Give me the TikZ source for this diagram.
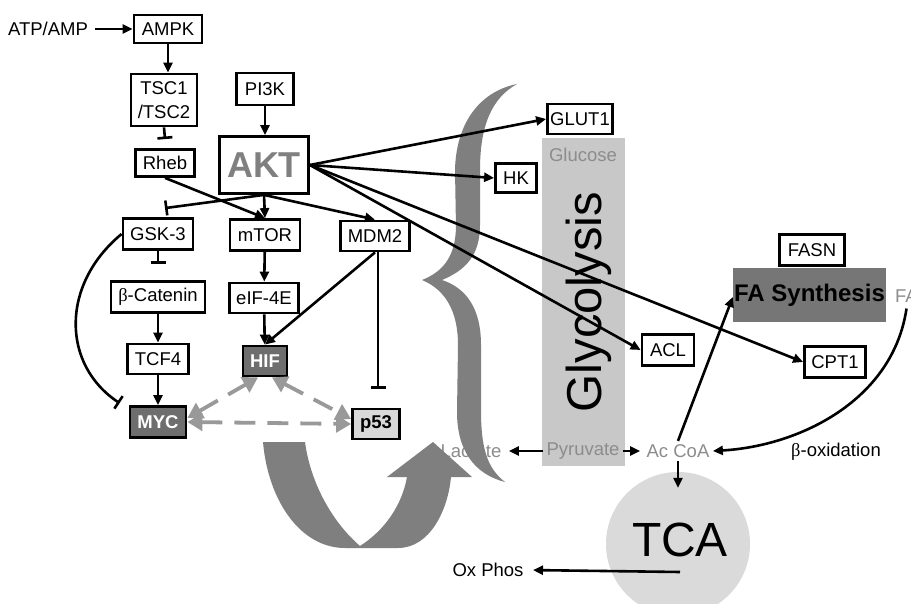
\documentclass[tikz,border=0pt]{standalone}
\usepackage{fontspec}
\setmainfont{Liberation Sans}
\newfontfamily\greekserif{Liberation Serif}
\usetikzlibrary{arrows.meta}
\definecolor{boxdark}{HTML}{6E6E6E}
\definecolor{fasyn}{HTML}{767676}
\definecolor{bracegray}{HTML}{7F7F7F}
\definecolor{barlight}{HTML}{C8C8C8}
\definecolor{tcagray}{HTML}{DADADA}
\definecolor{p53fill}{HTML}{D9D9D9}
\definecolor{txtgray}{HTML}{8C8C8C}
\definecolor{aktgray}{HTML}{808080}
\definecolor{dashgray}{HTML}{999999}
\newcommand\labfont{\fontsize{18.5}{21}\selectfont}
\begin{document}
\begin{tikzpicture}[x=1pt,y=-1pt,
  bx/.style={draw, line width=2.8pt, fill=white, inner sep=0pt, font=\labfont},
  ln/.style={line width=2.6pt, -{Triangle[length=10pt,width=9pt]}},
  inh/.style={line width=2.6pt, -{Bar[width=15pt]}},
  dsh/.style={draw=dashgray, line width=3.8pt, dash pattern=on 21pt off 12pt,
    {Triangle[length=15pt,width=17pt]}-{Triangle[length=15pt,width=17pt]}},
  gtxt/.style={font=\labfont, text=txtgray},
  btxt/.style={font=\labfont}]
\fill[white] (0,0) rectangle (911,604);
\useasboundingbox (0,0) rectangle (911,604);

% glycolysis bar and texts
\node[fill=barlight, minimum width=83pt, minimum height=328pt, inner sep=0pt] (bar) at (583.5,302) {};
\node[rotate=90, font=\fontsize{49}{49}\selectfont] (glyco) at (589,302) {Glycolysis};
\node[gtxt] (glucose) at (583,155) {Glucose};
\node[gtxt] (pyr) at (583,451) {Pyruvate};
\node[gtxt] (lac) at (471,451) {Lactate};
\node[gtxt] (acoa) at (678,451) {Ac CoA};
\node[gtxt, anchor=west, inner sep=0pt] (fa) at (895,296) {FA};
\node[btxt] (atp) at (48,29) {ATP/AMP};
\node[btxt] (boxid) at (836,452) {{\greekserif β}-oxidation};
\node[btxt] (ox) at (488,570) {Ox Phos};

% brace
\fill[bracegray] (517,84) .. controls (478,92) and (456,125) .. (455,170)
 -- (456,228) .. controls (455,258) and (442,272) .. (422,280)
 .. controls (446,290) and (458,312) .. (458,345)
 -- (457,412) .. controls (457,450) and (474,474) .. (505,482)
 .. controls (487,468) and (481,448) .. (481,410)
 -- (481,345) .. controls (481,308) and (466,288) .. (442,280)
 .. controls (466,270) and (480,255) .. (480,225)
 -- (480,170) .. controls (480,125) and (492,98) .. (517,84) -- cycle;

% big U arrow
\fill[bracegray] (263,442) .. controls (268,500) and (300,548) .. (345,548)
 -- (398,548) .. controls (430,548) and (448,510) .. (451,477)
 -- (472,477) -- (433,442) -- (387,477) -- (407,477)
 .. controls (402,505) and (385,530) .. (360,546)
 .. controls (330,520) and (310,480) .. (305,442) -- cycle;

% TCA
\node[circle, fill=tcagray, minimum size=144pt, inner sep=0pt] (tca) at (678,544) {};
\node[font=\fontsize{48}{48}\selectfont] (tcat) at (680,540) {TCA};

% FA synthesis
\node[fill=fasyn, minimum width=153pt, minimum height=54pt, inner sep=0pt,
  font=\fontsize{24}{26}\selectfont\bfseries] (fas) at (809.5,295) {FA Synthesis};

% boxes
\node[bx, minimum width=68pt, minimum height=28pt] (ampk) at (168,29) {AMPK};
\node[bx, minimum width=66pt, minimum height=52pt, align=center, font=\fontsize{18.5}{23.5}\selectfont] (tsc) at (164,100) {TSC1\\/TSC2};
\node[bx, minimum width=57pt, minimum height=32pt] (pi3k) at (265,89) {PI3K};
\node[bx, minimum width=89pt, minimum height=57pt, font=\fontsize{36}{38}\selectfont\bfseries, text=aktgray] (akt) at (264,165) {AKT};
\node[bx, minimum width=59pt, minimum height=27pt] (rheb) at (165,163) {Rheb};
\node[bx, minimum width=70pt, minimum height=31pt] (gsk) at (158,234) {GSK-3};
\node[bx, minimum width=70pt, minimum height=31pt] (mtor) at (265,235) {mTOR};
\node[bx, minimum width=69pt, minimum height=30pt] (mdm2) at (375,236) {MDM2};
\node[bx, minimum width=94pt, minimum height=31pt] (bcat) at (158,297) {{\greekserif β}-Catenin};
\node[bx, minimum width=69pt, minimum height=30pt] (eif) at (264,298) {eIF-4E};
\node[bx, minimum width=61pt, minimum height=30pt] (tcf) at (158,359) {TCF4};
\node[bx, fill=boxdark, text=white, minimum width=44pt, minimum height=30pt, font=\labfont\bfseries] (hif) at (265,361) {HIF};
\node[bx, fill=boxdark, text=white, minimum width=56pt, minimum height=31pt, font=\labfont\bfseries] (myc) at (158,422) {MYC};
\node[bx, fill=p53fill, minimum width=47pt, minimum height=30pt, font=\labfont\bfseries] (p53) at (376,424) {p53};
\node[bx, minimum width=65pt, minimum height=30pt] (glut) at (580,119) {GLUT1};
\node[bx, minimum width=41pt, minimum height=29pt] (hk) at (516,178) {HK};
\node[bx, minimum width=52pt, minimum height=31pt] (acl) at (668,350) {ACL};
\node[bx, minimum width=65pt, minimum height=31pt] (fasn) at (812,250) {FASN};
\node[bx, minimum width=61pt, minimum height=31pt] (cpt) at (835,362) {CPT1};

% connectors
\draw[ln, shorten <=4pt] (atp) -- (ampk);
\draw[ln] (ampk.south) -- (ampk.south |- tsc.north);
\draw[inh] (tsc.south) -- ([yshift=9pt]rheb.north);
\draw[ln] (pi3k.south) -- (pi3k.south |- akt.north);
\draw[ln] (rheb.south) -- (mtor.north);
\draw[inh] (akt.south) -- ([shift={(7,-9)}]gsk.north);
\draw[ln] (akt.south) -- (mtor.north);
\draw[ln] (akt.south) -- (mdm2.north);
\draw[ln] (akt.east) -- (glut.west);
\draw[ln] (akt.east) -- (hk.west);
\draw[ln] (akt.east) -- (acl.west);
\draw[ln] (akt.east) -- (cpt.west);
\draw[inh] (gsk.south) -- ([yshift=16pt]bcat.north);
\draw[ln] (bcat) -- (tcf);
\draw[ln] (tcf) -- (myc);
\draw[ln] (mtor) -- (eif);
\draw[ln] (eif) -- (hif);
\draw[ln] (mdm2.south) -- (hif.north);
\draw[inh] ([xshift=3pt]mdm2.south) -- ([shift={(2,-19)}]p53.north);
\draw[inh] (gsk.west) .. controls (60,285) and (62,365) .. ([shift={(-9,-2)}]myc.north west);

\draw[dsh] ([yshift=4pt]myc.east) -- ([xshift=-7pt]hif.south);
\draw[dsh] ([xshift=7pt]hif.south) -- ([yshift=5pt]p53.west);
\draw[dsh] (myc.east) -- (p53.west);

\draw[ln, shorten >=4pt] (pyr) -- (lac);
\draw[ln, shorten >=3pt] (pyr) -- (acoa);
\draw[ln] (acoa.south) -- ([yshift=-16pt]tca.north);
\draw[ln] (acoa.north) -- ([yshift=-2pt]fas.west);
\draw[ln] ([yshift=-6pt]fa.south) .. controls (893,400) and (800,446) .. (acoa.east);
\draw[ln, shorten >=6pt] ([shift={(2,28)}]tca.center) -- (ox.east);
\end{tikzpicture}
\end{document}
